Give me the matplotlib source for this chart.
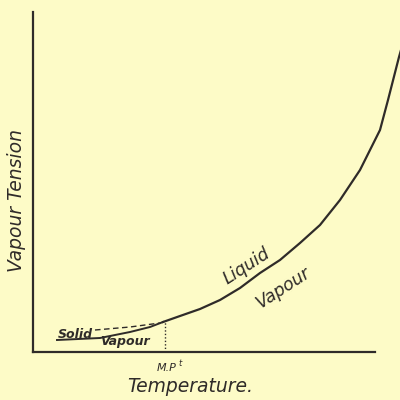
import matplotlib.pyplot as plt

# pontos (temperatura, tensao de vapor) em unidades arbitrarias
solid_t = [24, 67, 97, 117, 130]
solid_p = [12, 14, 20, 25, 30]

super_t = [62, 97, 127]
super_p = [22, 25, 29]

liquid_t = [130, 147, 167, 187, 207, 227, 247, 267, 287, 307, 327, 347, 355, 366, 368]
liquid_p = [30, 36, 43, 52, 64, 79, 92, 109, 127, 152, 182, 222, 252, 295, 302]

mp_t = 132

bg = '#fdfbc7'
ink = '#2f2b29'

fig = plt.figure(figsize=(4, 4), dpi=100, facecolor=bg)
ax = fig.add_axes([33 / 400, 48 / 400, 367 / 400, 340 / 400], facecolor=bg)
ax.set_xlim(0, 367)
ax.set_ylim(0, 340)

ax.plot(solid_t, solid_p, color=ink, lw=1.4, clip_on=False)
ax.plot(super_t, super_p, color=ink, lw=1.0, ls=(0, (4, 2.5)))
ax.plot(liquid_t, liquid_p, color=ink, lw=1.6, clip_on=False)
ax.plot([mp_t, mp_t], [0, 30], color=ink, lw=1.0, ls=(0, (1, 1.5)))

for s in ['top', 'right']:
    ax.spines[s].set_visible(False)
ax.spines['left'].set_color(ink)
ax.spines['bottom'].set_color(ink)
ax.spines['left'].set_linewidth(1.6)
ax.spines['bottom'].set_linewidth(1.6)
ax.spines['bottom'].set_bounds(0, 342)
ax.set_xticks([])
ax.set_yticks([])

fnt = dict(color=ink, style='italic', family='DejaVu Sans')

ax.text(214, 86, 'Liquid', fontsize=12.5, rotation=33, ha='center', va='center', **fnt)
ax.text(250, 64, 'Vapour', fontsize=12.5, rotation=33, ha='center', va='center', **fnt)
ax.text(42, 18, 'Solid', fontsize=9, weight='bold', ha='center', va='center', **fnt)
ax.text(92, 10, 'Vapour', fontsize=9, weight='bold', ha='center', va='center', **fnt)

fig.text(167 / 400, 1 - 368 / 400, 'M.P', fontsize=8, ha='center', va='center', **fnt)
fig.text(180 / 400, 1 - 364 / 400, 't', fontsize=6, ha='center', va='center', **fnt)
fig.text(190 / 400, 1 - 386 / 400, 'Temperature.', fontsize=13.5, ha='center', va='center', **fnt)
fig.text(17 / 400, 1 - 200 / 400, 'Vapour Tension', fontsize=13.5, rotation=90,
         ha='center', va='center', **fnt)

fig.savefig('out.png', dpi=100, facecolor=bg)
